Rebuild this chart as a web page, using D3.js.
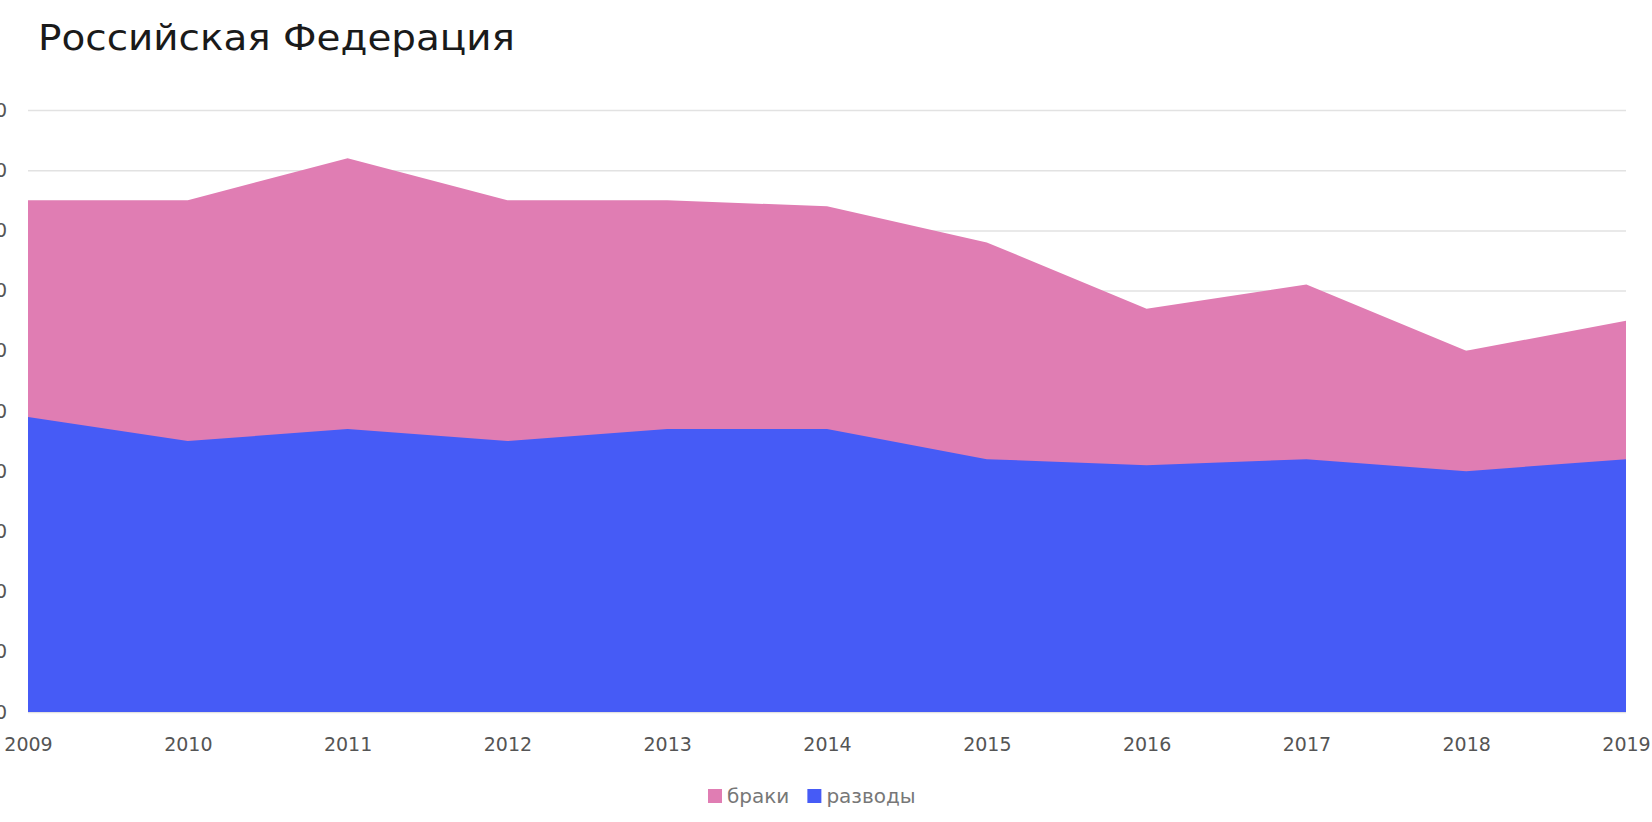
<!DOCTYPE html>
<html>
  <head>
    <meta charset="utf-8" />
    <title>Российская Федерация</title>
    <script src="https://d3js.org/d3.v7.min.js"></script>
    <style>
        body {
            margin: 0;
            background: #fff;
        }
        text {
            font-family: "DejaVu Sans", sans-serif;
        }
    </style>
  </head>
  <body>
    <svg id="chart"></svg>

    <script>
        var years = ["2009", "2010", "2011", "2012", "2013", "2014", "2015", "2016", "2017", "2018", "2019"];
        var marriages = [8.5, 8.5, 9.2, 8.5, 8.5, 8.4, 7.8, 6.7, 7.1, 6.0, 6.5]; // браки
        var divorces = [4.9, 4.5, 4.7, 4.5, 4.7, 4.7, 4.2, 4.1, 4.2, 4.0, 4.2]; // разводы
        var yTicks = [0, 1, 2, 3, 4, 5, 6, 7, 8, 9, 10];
        var seriesNames = ["браки", "разводы"];
        var colors = ["#e07db3", "#465bf6"];

        var width = 1652;
        var height = 822;
        var margin = {top: 110, right: 26, bottom: 110, left: 28};

        var svg = d3.select("#chart").attr("width", width).attr("height", height);

        var x = d3.scalePoint()
            .domain(years)
            .range([margin.left, width - margin.right]);

        var y = d3.scaleLinear()
            .domain([0, 10])
            .range([height - margin.bottom, margin.top]);

        // title
        svg.append("text")
            .attr("x", 38)
            .attr("y", 50)
            .attr("font-size", 35)
            .attr("fill", "#1a1a1a")
            .attr("textLength", 477)
            .attr("lengthAdjust", "spacingAndGlyphs")
            .text("Российская Федерация");

        // gridlines + y labels (cut off at the left edge, as in the source)
        var yAxis = svg.append("g")
            .attr("transform", "translate(" + margin.left + ",0)")
            .call(d3.axisLeft(y)
                .tickValues(yTicks)
                .tickSize(-(width - margin.left - margin.right))
                .tickFormat(function(d) { return d3.format(".1f")(d).replace(".", ","); }));
        yAxis.select(".domain").remove();
        yAxis.selectAll("line").attr("stroke", "#e2e2e2").attr("stroke-width", 1.5);
        yAxis.selectAll("text")
            .attr("font-size", 19)
            .attr("fill", "#555")
            .attr("x", -(margin.left - 7));

        // areas: marriages behind, divorces in front
        var area = d3.area()
            .x(function(d, i) { return x(years[i]); })
            .y0(y(0))
            .y1(function(d) { return y(d); });

        svg.append("path")
            .datum(marriages)
            .attr("fill", colors[0])
            .attr("d", area);

        svg.append("path")
            .datum(divorces)
            .attr("fill", colors[1])
            .attr("d", area);

        // x axis labels
        var xAxis = svg.append("g")
            .attr("transform", "translate(0," + (height - margin.bottom) + ")")
            .call(d3.axisBottom(x).tickSize(0).tickPadding(26));
        xAxis.select(".domain").remove();
        xAxis.selectAll("text")
            .attr("font-size", 19)
            .attr("font-family", "DejaVu Sans, sans-serif")
            .attr("fill", "#555");

        // legend
        var legend = svg.append("g").attr("transform", "translate(708,796)");
        var lx = 0;
        seriesNames.forEach(function(name, i) {
            var g = legend.append("g").attr("transform", "translate(" + lx + ",0)");
            g.append("rect")
                .attr("x", 0).attr("y", -7)
                .attr("width", 14).attr("height", 14)
                .attr("fill", colors[i]);
            var t = g.append("text")
                .attr("x", 19).attr("y", 7)
                .attr("font-size", 20)
                .attr("fill", "#777")
                .text(name);
            lx += 19 + t.node().getComputedTextLength() + 18;
        });
    </script>
  </body>
</html>
